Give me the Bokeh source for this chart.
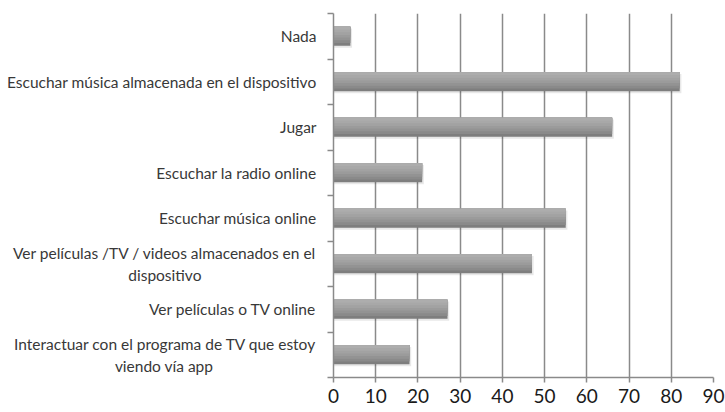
import numpy as np
from bokeh.plotting import figure
from bokeh.models import FixedTicker, Range1d
from bokeh.embed import file_html
from bokeh.resources import INLINE

NB = "\u00a0"
# Data (top to bottom as shown)
categories = [
    "Nada",
    "Escuchar música almacenada en el dispositivo",
    "Jugar",
    "Escuchar la radio online",
    "Escuchar música online",
    "Ver películas /TV / videos almacenados en el\ndispositivo" + NB * 29,
    "Ver películas o TV online",
    "Interactuar con el programa de TV que estoy\nviendo vía app" + NB * 26,
]
values = [4, 82, 66, 21, 55, 47, 27, 18]
x_ticks = [0, 10, 20, 30, 40, 50, 60, 70, 80, 90]

n = len(categories)
# place first category at the top
ypos = [n - 0.5 - i for i in range(n)]

p = figure(width=725, height=412, output_backend="svg", toolbar_location=None,
           x_range=Range1d(0, 90), y_range=Range1d(0, n),
           min_border_left=333, min_border_right=12, min_border_top=13, min_border_bottom=35)
p.outline_line_color = None
p.background_fill_color = "white"
p.border_fill_color = "white"

bar_h = 0.42
# bar shadow
p.hbar(y=[y - 0.04 for y in ypos], left=0, right=[v + 0.4 for v in values], height=bar_h,
       fill_color="black", fill_alpha=0.09, line_color=None)

# gradient bars: layers anchored at the bar top, lighter layers shorter
shades = ["#7e7e7e", "#8a8a8a", "#939393", "#9b9b9b", "#a2a2a2", "#a8a8a8", "#adadad"]
ns = len(shades)
for k, c in enumerate(shades):
    hk = bar_h * (1 - k / ns)
    p.hbar(y=[y + bar_h / 2 - hk / 2 for y in ypos], left=0, right=values, height=hk,
           fill_color=c, line_color=None)

# x axis
p.xaxis.ticker = FixedTicker(ticks=x_ticks)
p.xaxis.axis_line_color = "#8a8a8a"
p.xaxis.axis_line_width = 1.5
p.xaxis.major_tick_line_color = "#8a8a8a"
p.xaxis.major_tick_line_width = 1.5
p.xaxis.major_tick_out = 5
p.xaxis.major_tick_in = 0
p.xaxis.minor_tick_line_color = None
p.xaxis.major_label_text_font = "Lato"
p.xaxis.major_label_text_font_size = "19px"
p.xaxis.major_label_text_color = "#1a1a1a"
p.xaxis.major_label_standoff = 6

# y axis: labels at centers, ticks at boundaries
p.yaxis.ticker = FixedTicker(ticks=ypos, minor_ticks=list(range(n + 1)))
p.yaxis.major_label_overrides = {y: c for y, c in zip(ypos, categories)}
p.yaxis.major_tick_line_color = None
p.yaxis.minor_tick_line_color = "#8a8a8a"
p.yaxis.minor_tick_line_width = 1.5
p.yaxis.minor_tick_out = 6
p.yaxis.minor_tick_in = 0
p.yaxis.axis_line_color = "#8a8a8a"
p.yaxis.axis_line_width = 1.5
p.yaxis.major_label_text_font = "Lato"
p.yaxis.major_label_text_font_size = "15.5px"
p.yaxis.major_label_text_color = "#383838"
p.yaxis.major_label_standoff = 11

p.xgrid.grid_line_color = "#8a8a8a"
p.xgrid.grid_line_width = 1.5
p.ygrid.grid_line_color = None

open("out.html", "w").write(file_html(p, INLINE))
